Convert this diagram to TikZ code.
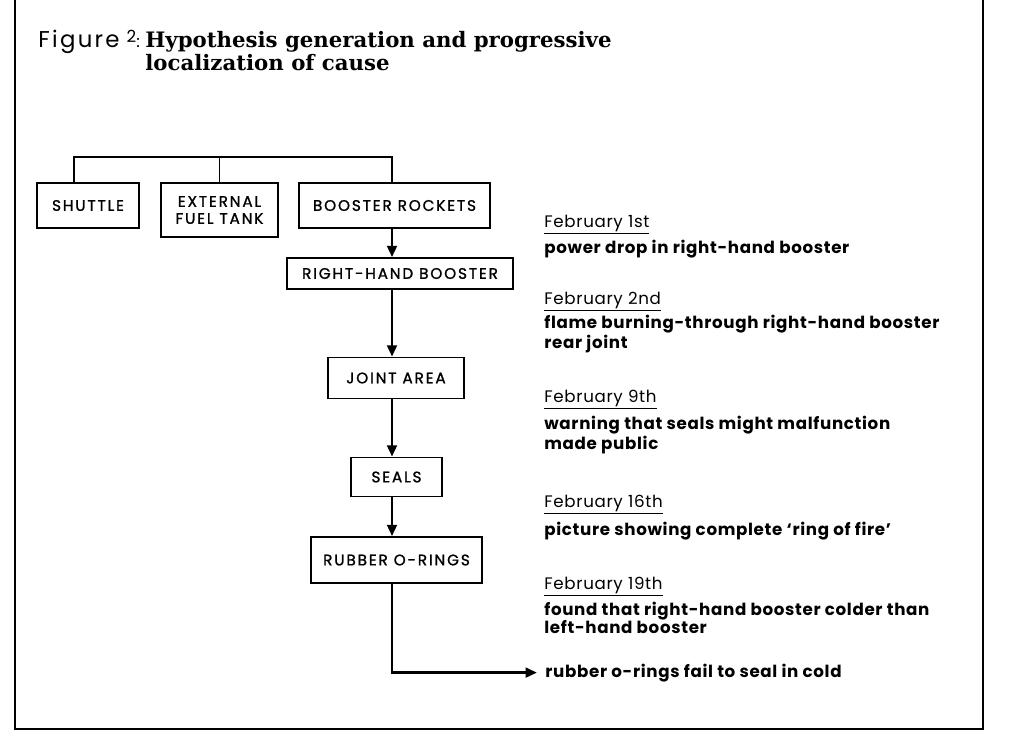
\documentclass[tikz,border=0pt]{standalone}
\usepackage{fontspec}
\setmainfont{Poppins}
\newfontfamily\titlefont{DejaVu Serif}
\newfontfamily\figfont{Poppins}[LetterSpace=10]
\newfontfamily\boxfont{Poppins}[LetterSpace=12, FakeBold=1.2]
\newfontfamily\notefont{Poppins}[LetterSpace=4]
\usetikzlibrary{arrows.meta}

\tikzset{
	part/.style={draw, line width=0.9pt, inner sep=0pt, align=center, font=\boxfont\fontsize{8.7}{9.7}\selectfont},
	date/.style={anchor=base west, inner sep=0pt, font=\notefont\fontsize{9.5}{10.2}\selectfont},
	note/.style={anchor=base west, inner sep=0pt, align=left, font=\notefont\bfseries\fontsize{9.5}{10.2}\selectfont},
	link/.style={->, line width=1.6pt},
}

\begin{document}
\begin{tikzpicture}[x=0.02cm, y=-0.02cm, >={Triangle[length=6.5pt, width=5.5pt]}]
		\useasboundingbox (0,0) rectangle (1011,737);
		
		% Frame, open at the top
		\draw[line width=1.1pt] (15,0) -- (15,729) -- (983,729) -- (983,0);
		
		% Title (base anchor sits on the last line)
		\node[anchor=base west, inner sep=0pt, font=\figfont\fontsize{13}{14}\selectfont] (fig) at (38,47) {Figure\hspace{4pt}{\notefont\fontsize{9.5}{9.5}\selectfont\raisebox{2.5pt}{2}:}};
		\node[anchor=base west, inner sep=0pt, align=left, font=\titlefont\bfseries\fontsize{12.1}{13}\selectfont] (title) at (145,70) {Hypothesis generation and progressive\\localization of cause};
		
		% Boxes
		\node[part, minimum width=2.04cm, minimum height=0.9cm] (shuttle) at (88,205.5) {SHUTTLE};
		\node[part, minimum width=2.34cm, minimum height=1.08cm] (tank) at (219.5,210) {EXTERNAL\\FUEL TANK};
		\node[part, minimum width=3.82cm, minimum height=0.9cm] (rockets) at (394.5,205.5) {BOOSTER ROCKETS};
		\node[part, minimum width=4.52cm, minimum height=0.62cm] (rhb) at (400,273.5) {RIGHT-HAND BOOSTER};
		\node[part, minimum width=2.72cm, minimum height=0.82cm] (joint) at (396,378) {JOINT AREA};
		\node[part, minimum width=1.82cm, minimum height=0.78cm] (seals) at (396.5,477) {SEALS};
		\node[part, minimum width=3.42cm, minimum height=0.92cm] (orings) at (396.5,560) {RUBBER O-RINGS};
		
		% Tree on top
		\coordinate (bar) at (0,157);
		\coordinate (spine) at (392,0);
		\draw[line width=0.9pt] ([xshift=-0.28cm]shuttle.north) |- (spine |- bar) -- (spine |- rockets.north);
		\draw[line width=0.9pt] (tank.north) -- (tank.north |- bar);
		
		% Dates and findings (two-line notes placed by their second line)
		\node[date] (feb1) at (544,227) {\underline{February 1st}};
		\node[note] (feb1txt) at (544,253) {power drop in right-hand booster};
		\node[date] (feb2) at (544,304) {\underline{February 2nd}};
		\node[note] (feb2txt) at (544,348) {flame burning-through right-hand booster\\rear joint};
		\node[date] (feb9) at (544,402) {\underline{February 9th}};
		\node[note] (feb9txt) at (544,449) {warning that seals might malfunction\\made public};
		\node[date] (feb16) at (544,507) {\underline{February 16th}};
		\node[note] (feb16txt) at (544,535) {picture showing complete ‘ring of fire’};
		\node[date] (feb19) at (544,589) {\underline{February 19th}};
		\node[note] (feb19txt) at (544,633) {found that right-hand booster colder than\\left-hand booster};
		\node[note] (result) at (545,677) {rubber o-rings fail to seal in cold};
		
		% Arrows down the spine
		\draw[link] (spine |- rockets.south) -- (spine |- rhb.north);
		\draw[link] (spine |- rhb.south) -- (spine |- joint.north);
		\draw[link] (spine |- joint.south) -- (spine |- seals.north);
		\draw[link] (spine |- seals.south) -- (spine |- orings.north);
		\draw[link] (spine |- orings.south) |- ([xshift=-0.16cm]result.west);
	\end{tikzpicture}
\end{document}
